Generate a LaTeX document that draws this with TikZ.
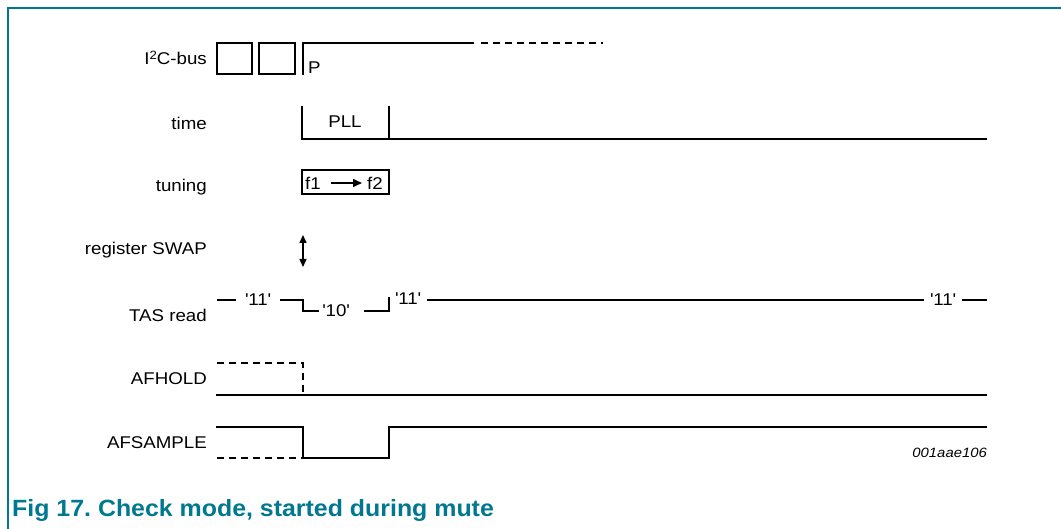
\documentclass[tikz,border=0pt]{standalone}
\usepackage{fontspec}
\setmainfont{Liberation Sans}[FakeStretch=1.1]
\newfontfamily\capfont{Liberation Sans}[FakeStretch=1.06]
\usetikzlibrary{arrows.meta}
\definecolor{nxpteal}{RGB}{0,120,145}
\tikzset{
  x=1pt, y=-1pt,
  lab/.style={anchor=east, font=\fontsize{17}{19}\selectfont, inner sep=0pt},
  txt/.style={font=\fontsize{17}{19}\selectfont, inner sep=0pt},
  sig/.style={line width=2.5pt, line cap=rect},
  dsig/.style={line width=2.5pt, dash pattern=on 7pt off 5pt},
  frame/.style={draw=nxpteal, line width=1.2pt},
}
\newcommand{\sq}{\textquotesingle}
\begin{document}
\begin{tikzpicture}
\useasboundingbox (0,0) rectangle (1061,529);
\draw[frame] (8,529) -- (8,8) -- (1061,8);
% labels
\node[lab] (l1) at (207,58) {I\raisebox{0.55ex}{\fontsize{12}{13}\selectfont 2}C-bus};
\node[lab] (l2) at (207,123) {time};
\node[lab] (l3) at (207,187) {tuning};
\node[lab] (l4) at (207,250) {register SWAP};
\node[lab] (l5) at (207,315) {TAS read};
\node[lab] (l6) at (207,379) {AFHOLD};
\node[lab] (l7) at (207,443) {AFSAMPLE};
% I2C bus
\draw[sig] (217,43) rectangle (252,74);
\draw[sig] (259,43) rectangle (295,74);
\draw[sig] (303,74) -- (303,43) -- (473,43);
\draw[dsig] (481,43) -- (603,43);
\node[txt, anchor=west] (p) at (308,68) {P};
% time
\draw[sig] (302,107) -- (302,139) -- (986,139);
\draw[sig] (389,107) -- (389,139);
\node[txt] (pll) at (345,122) {PLL};
% tuning
\draw[sig] (302,170) rectangle (389,194);
\node[txt] (f1) at (313,183) {f1};
\node[txt] (f2) at (375,183) {f2};
\coordinate (fa) at (331,183);
\coordinate (fb) at (362,183);
\draw[line width=1.5pt, -{Triangle[length=9pt,width=8pt]}] (fa) -- (fb);
% register swap
\coordinate (sa) at (303,235);
\coordinate (sb) at (303,267);
\draw[line width=1.5pt, {Triangle[length=8pt,width=7pt]}-{Triangle[length=8pt,width=7pt]}] (sa) -- (sb);
% TAS read
\node[txt] (t1) at (258,300) {\sq11\sq};
\node[txt] (t2) at (336,311) {\sq10\sq};
\node[txt] (t3) at (408,299) {\sq11\sq};
\node[txt] (t4) at (943,300) {\sq11\sq};
\draw[sig] (218,300) -- (235,300);
\draw[sig] (281,300) -- (303,300) -- (303,311) -- (318,311);
\draw[sig] (365,311) -- (389,311) -- (389,298);
\draw[sig] (428,300) -- (923,300);
\draw[sig] (963,300) -- (986,300);
% AFHOLD
\draw[dsig] (217,363) -- (303,363) -- (303,395);
\draw[sig] (217,395) -- (986,395);
% AFSAMPLE
\draw[sig] (217,427) -- (303,427) -- (303,458) -- (389,458) -- (389,427) -- (986,427);
\draw[dsig] (217,458) -- (303,458);
\node[txt, anchor=east, font=\itshape\fontsize{13.5}{15}\selectfont] (id) at (987,453) {001aae106};
% caption
\node[anchor=west, inner sep=0pt, text=nxpteal, font=\capfont\bfseries\fontsize{23.5}{27}\selectfont] (cap) at (12,510) {Fig 17.\ Check mode, started during mute};
\end{tikzpicture}
\end{document}
